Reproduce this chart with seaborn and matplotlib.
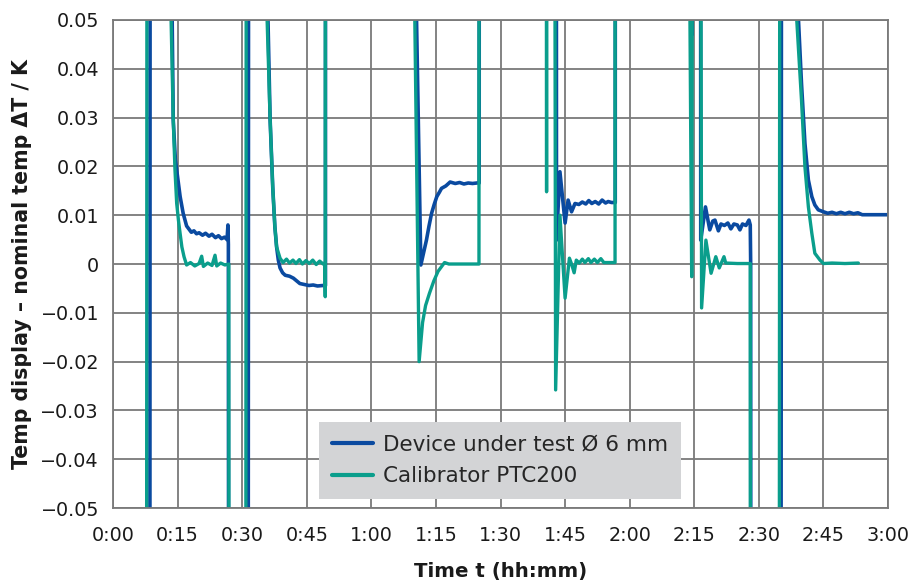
import numpy as np
import pandas as pd
import seaborn as sns
import matplotlib.pyplot as plt
from matplotlib.ticker import FuncFormatter

# Time in minutes, deviation in K (values outside +-0.05 run off the chart)
dut_t = [0, 8.5, 8.7, 13.4, 13.75, 14.0, 14.5, 15.1, 15.6, 16.3, 17.1, 17.6,
         18.2, 18.8, 19.4, 20.0, 20.8, 21.5, 22.3, 23.0, 23.8, 24.5, 25.2,
         25.9, 26.5, 26.7, 26.8, 27.0,
         31.3, 31.6,
         35.6, 36.0, 36.5, 37.1, 37.6, 38.0, 38.4, 38.8, 39.4, 40.0, 41.0,
         41.9, 42.6, 43.4, 44.5, 45.5, 46.5, 47.5, 48.8, 49.35, 49.4,
         70.3, 70.5, 71.5, 72.2, 72.8, 73.4, 74.0, 74.6, 75.2, 75.8, 76.3,
         77.3, 78.3, 79.5, 80.5, 81.5, 82.5, 83.5, 84.5, 85.05, 85.1,
         102.9, 103.0, 103.8, 105.0, 105.7, 106.5, 107.3, 108.2, 109.0,
         109.8, 110.5, 111.2, 112.0, 112.8, 113.6, 114.4, 115.0, 115.8,
         116.65, 116.7,
         134.3, 134.5, 134.7, 136.4, 136.5, 137.6, 138.6, 139.3, 139.8,
         140.6, 141.2, 142.0, 142.8, 143.5, 144.2, 145.0, 145.6, 146.2,
         147.0, 147.7, 148.0, 148.1, 148.2, 155.0, 155.4,
         158.7, 159.2, 159.9, 160.7, 161.5, 162.3, 163.0, 163.8, 165.0,
         166.0, 167.0, 168.0, 169.0, 170.0, 171.0, 172.0, 173.0, 174.0,
         180.0]
dut_v = [-0.30, -0.30, 0.30, 0.20, 0.05, 0.0295, 0.0213, 0.0172, 0.0138,
         0.0104, 0.0078, 0.0072, 0.0065, 0.0068, 0.0062, 0.0064, 0.0059,
         0.0063, 0.0057, 0.0061, 0.0054, 0.0058, 0.0052, 0.0055, 0.0050,
         0.0080, 0.0040, -0.30,
         -0.30, 0.30,
         0.20, 0.05, 0.0295, 0.0158, 0.0076, 0.0035, 0.0008, -0.0008,
         -0.0018, -0.0023, -0.0025, -0.0029, -0.0034, -0.0040, -0.0042,
         -0.0044, -0.0043, -0.0045, -0.0044, -0.0044, 0.30,
         0.30, 0.05, -0.0002, 0.0025, 0.0049, 0.0078, 0.0104, 0.0122,
         0.0138, 0.0147, 0.0155, 0.0160, 0.0168, 0.0165, 0.0167, 0.0164,
         0.0166, 0.0165, 0.0166, 0.0166, 0.30,
         0.30, 0.0049, 0.0189, 0.0084, 0.0131, 0.0107, 0.0124, 0.0122,
         0.0127, 0.0123, 0.0130, 0.0124, 0.0128, 0.0123, 0.0131, 0.0125,
         0.0128, 0.0126, 0.0126, 0.30,
         0.30, 0.047, 0.30, 0.30, 0.0049, 0.0117, 0.0070, 0.0088, 0.0090,
         0.0068, 0.0082, 0.0079, 0.0084, 0.0072, 0.0082, 0.0080, 0.0070,
         0.0082, 0.0079, 0.0090, 0.0080, 0.0, -0.30, -0.30, 0.30,
         0.20, 0.05, 0.037, 0.0247, 0.0172, 0.0138, 0.0121, 0.0111, 0.0107,
         0.0104, 0.0106, 0.0103, 0.0106, 0.0103, 0.0106, 0.0103, 0.0105,
         0.0101, 0.0101]

cal_t = [0, 7.7, 8.0, 13.2, 13.5, 14.0, 14.4, 14.8, 15.2, 15.6, 16.0, 16.5,
         17.1, 18.0, 19.0, 20.0, 20.6, 21.0, 22.0, 23.0, 23.7, 24.1, 25.0,
         26.0, 26.9, 27.0,
         30.7, 31.1,
         35.4, 35.8, 36.5, 37.1, 37.6, 38.0, 38.8, 39.5, 40.3, 41.0, 41.8,
         42.5, 43.3, 44.0, 44.8, 45.6, 46.4, 47.2, 48.0, 48.8, 49.2, 49.3,
         49.4,
         69.9, 70.1, 71.1, 71.9, 72.6, 73.5, 74.5, 75.5, 76.5, 77.0, 78.0,
         80.0, 82.0, 85.0, 85.1,
         100.5, 100.7, 100.8, 102.2, 102.8, 103.8, 105.0, 106.0, 106.5,
         107.1, 107.6, 108.3, 109.0, 109.6, 110.4, 111.0, 111.8, 112.5,
         113.3, 114.0, 115.0, 116.6, 116.7,
         133.8, 134.0, 134.4, 135.0, 136.0, 136.7, 137.7, 138.9, 140.0,
         140.8, 141.9, 142.3, 145.0, 148.0, 148.1, 154.6, 155.0,
         158.4, 158.8, 159.9, 160.7, 161.5, 162.3, 163.0, 164.2, 165.0,
         167.0, 170.0, 173.1]
cal_v = [-0.30, -0.30, 0.30, 0.30, 0.05, 0.0295, 0.0193, 0.0124, 0.0090,
         0.0062, 0.0035, 0.0015, -0.0002, 0.0003, -0.0004, 0.0001, 0.0016,
         -0.0005, 0.0002, -0.0003, 0.0018, -0.0004, 0.0002, -0.0002, 0.0,
         -0.30,
         -0.30, 0.30,
         0.20, 0.05, 0.0295, 0.0158, 0.0076, 0.0035, 0.0012, 0.0003, 0.0010,
         0.0002, 0.0008, 0.0001, 0.0009, 0.0000, 0.0007, 0.0001, 0.0008,
         -0.0001, 0.0006, 0.0000, 0.0002, -0.0067, 0.30,
         0.30, 0.05, -0.0200, -0.0120, -0.0085, -0.0060, -0.0035, -0.0015,
         -0.0003, 0.0003, 0.0, 0.0, 0.0, 0.0, 0.30,
         0.30, 0.0148, 0.30, 0.30, -0.0258, 0.0100, -0.0070, 0.0012, 0.0000,
         -0.0018, 0.0008, 0.0002, 0.0010, 0.0003, 0.0011, 0.0003, 0.0010,
         0.0003, 0.0011, 0.0003, 0.0003, 0.0003, 0.30,
         0.30, 0.05, -0.0026, 0.30, 0.30, -0.0090, 0.0049, -0.0019, 0.0015,
         -0.0008, 0.0015, 0.0002, 0.0001, 0.0001, -0.30, -0.30, 0.30,
         0.20, 0.05, 0.0336, 0.0199, 0.0117, 0.0063, 0.0022, 0.0008, 0.0001,
         0.0002, 0.0001, 0.0002]

x_ticks = list(range(0, 181, 15))
y_ticks = [-0.05, -0.04, -0.03, -0.02, -0.01, 0, 0.01, 0.02, 0.03, 0.04, 0.05]

sns.set_theme(style="white")
plt.rcParams['font.family'] = ['DejaVu Sans']

blue = '#0a4aa0'
teal = '#0a9e8c'
grid_c = '#7a7a7a'

fig, ax = plt.subplots(figsize=(9.14, 5.88), dpi=100)
fig.subplots_adjust(left=0.1236, right=0.9716, top=0.966, bottom=0.136)

sns.lineplot(x=dut_t, y=dut_v, sort=False, estimator=None, color=blue,
             linewidth=2.6, label='Device under test Ø 6 mm', ax=ax)
sns.lineplot(x=cal_t, y=cal_v, sort=False, estimator=None, color=teal,
             linewidth=2.4, label='Calibrator PTC200', ax=ax)

ax.set_xlim(0, 180)
ax.set_ylim(-0.05, 0.05)
ax.set_xticks(x_ticks)
ax.set_yticks(y_ticks)
ax.xaxis.set_major_formatter(
    FuncFormatter(lambda m, p: f"{int(m) // 60}:{int(m) % 60:02d}"))
ax.yaxis.set_major_formatter(
    FuncFormatter(lambda v, p: "0" if abs(v) < 1e-9
                  else f"{v:.2f}".replace('-', '\u2212')))
ax.tick_params(labelsize=13.8, length=0, colors='#1a1a1a')
ax.tick_params(axis='x', pad=13)
ax.tick_params(axis='y', pad=10)
ax.grid(True, color=grid_c, linewidth=1.3)
for s in ax.spines.values():
    s.set_color(grid_c)
    s.set_linewidth(1.3)

ax.set_xlabel('Time t (hh:mm)', fontsize=14.2, fontweight='bold',
              color='#1a1a1a', labelpad=12)
ax.set_ylabel('Temp display \u2013 nominal temp \u0394T / K', fontsize=14.8,
              fontweight='bold', color='#1a1a1a', labelpad=6)

leg = ax.legend(loc='lower left', bbox_to_anchor=(0.266, 0.018),
                fontsize=15.5, frameon=True, fancybox=False, framealpha=1,
                facecolor='#d3d4d6', edgecolor='none', borderaxespad=0,
                handlelength=1.9, handletextpad=0.47, labelspacing=0.55,
                borderpad=0.6)
for line in leg.get_lines():
    line.set_linewidth(3)

fig.savefig('out.png', dpi=100)
